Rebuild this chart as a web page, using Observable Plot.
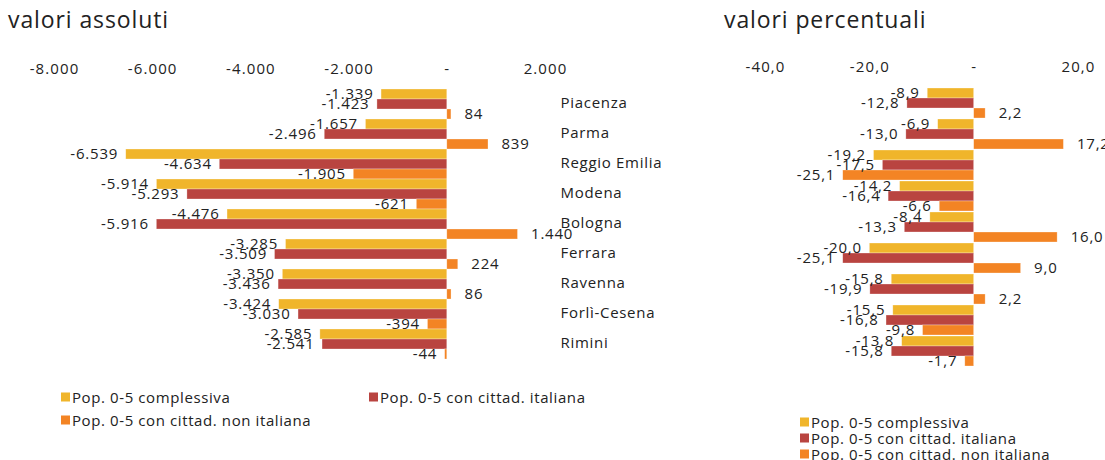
<!DOCTYPE html>
<html>
<head>
<meta charset="utf-8">
<script src="https://cdn.jsdelivr.net/npm/d3@7"></script>
<script src="https://cdn.jsdelivr.net/npm/@observablehq/plot@0.6"></script>
<style>
  html, body { margin: 0; padding: 0; background: #fff; }
  body { width: 1105px; height: 460px; position: relative; overflow: hidden; font-family: 'Open Sans', sans-serif; color: #222; }
  .title { position: absolute; font-size: 23px; letter-spacing: 0.9px; line-height: 1; white-space: nowrap; }
  .plot { position: absolute; top: 0; }
  .leg { position: absolute; font-size: 15px; letter-spacing: 0.6px; line-height: 1; white-space: nowrap; display: flex; align-items: center; transform: translateY(-50%); }
  .leg span.sw { width: 9px; height: 9px; display: inline-block; margin-right: 2px; }
  .vlab { letter-spacing: 0.8px; }
  .tlab text { letter-spacing: 1.1px; }
  .clab text { letter-spacing: 0.7px; }
</style>
</head>
<body>
<div class="title" style="left:8px; top:8px;">valori assoluti</div>
<div class="title" style="left:724px; top:8px;">valori percentuali</div>
<div id="left" class="plot" style="left:0px;"></div>
<div id="right" class="plot" style="left:700px;"></div>
<div id="legends"></div>
<script>
const categories = ["Piacenza", "Parma", "Reggio Emilia", "Modena", "Bologna", "Ferrara", "Ravenna", "Forlì-Cesena", "Rimini"];
const series = ["Pop. 0-5 complessiva", "Pop. 0-5 con cittad. italiana", "Pop. 0-5 con cittad. non italiana"];
const colors = ["#F0B52B", "#B94440", "#F38424"];

const absComplessiva = [-1339, -1657, -6539, -5914, -4476, -3285, -3350, -3424, -2585];
const absItaliana    = [-1423, -2496, -4634, -5293, -5916, -3509, -3436, -3030, -2541];
const absStraniera   = [84, 839, -1905, -621, 1440, 224, 86, -394, -44];

const pctComplessiva = [-8.9, -6.9, -19.2, -14.2, -8.4, -20.0, -15.8, -15.5, -13.8];
const pctItaliana    = [-12.8, -13.0, -17.5, -16.4, -13.3, -25.1, -19.9, -16.8, -15.8];
const pctStraniera   = [2.2, 17.2, -25.1, -6.6, 16.0, 9.0, 2.2, -9.8, -1.7];

const absTicks = [-8000, -6000, -4000, -2000, 0, 2000];
const pctTicks = [-40, -20, 0, 20];

const loc = d3.formatLocale({decimal: ",", thousands: ".", grouping: [3], currency: ["€", ""], minus: "-"});
const fAbs = loc.format(",d");
const fPct = loc.format(",.1f");

function makeChart({values, domain, ticks, fmt, width, height, mL, mR, mT, mB, showCats}) {
  const data = categories.flatMap((c, i) => series.map((s, j) => ({cat: c, ser: s, v: values[j][i]})));
  const tickFormat = d => d === 0 ? "-" : fmt(d);
  return Plot.plot({
    width, height,
    marginLeft: mL, marginRight: mR, marginTop: mT, marginBottom: mB,
    style: {fontFamily: "'Open Sans', sans-serif", fontSize: "15px", color: "#222", overflow: "visible", background: "transparent"},
    x: {domain, axis: null},
    y: {domain: series, padding: 0, axis: null},
    fy: {domain: categories, padding: 0, axis: null},
    color: {domain: series, range: colors},
    marks: [
      Plot.axisX({anchor: "top", ticks, tickFormat, tickSize: 0, tickPadding: 16, label: null, fontSize: 15, className: "tlab"}),
      showCats ? Plot.axisFy({anchor: "right", tickSize: 0, tickPadding: 15, textAnchor: "start", label: null, fontSize: 15, dy: -1.5, className: "clab"}) : null,
      Plot.barX(data, {x: "v", y: "ser", fy: "cat", fill: "ser", stroke: "#fff", strokeOpacity: 0.5, strokeWidth: 0.6}),
      Plot.text(data.filter(d => d.v < 0), {x: "v", y: "ser", fy: "cat", text: d => fmt(d.v), textAnchor: "end", dx: -8, fontSize: 15, fill: "#222", className: "vlab"}),
      Plot.text(data.filter(d => d.v > 0), {x: "v", y: "ser", fy: "cat", text: d => fmt(d.v), textAnchor: "start", dx: 13, fontSize: 15, fill: "#222", className: "vlab"})
    ]
  });
}

document.getElementById("left").append(makeChart({
  values: [absComplessiva, absItaliana, absStraniera],
  domain: [-8000, 2000], ticks: absTicks, fmt: fAbs,
  width: 700, height: 380, mL: 54, mR: 155, mT: 86, mB: 19, showCats: true
}));
document.getElementById("right").append(makeChart({
  values: [pctComplessiva, pctItaliana, pctStraniera],
  domain: [-40, 20], ticks: pctTicks, fmt: fPct,
  width: 405, height: 380, mL: 65, mR: 27, mT: 85, mB: 13, showCats: false
}));

const legendPos = [
  [[61, 397], [369, 397], [61, 420]],
  [[800, 422], [800, 438], [800, 454]]
];
const legRoot = document.getElementById("legends");
legendPos.forEach(group => group.forEach((p, i) => {
  const d = document.createElement("div");
  d.className = "leg";
  d.style.left = p[0] + "px";
  d.style.top = p[1] + "px";
  const sw = document.createElement("span");
  sw.className = "sw";
  sw.style.background = colors[i];
  d.append(sw, document.createTextNode(series[i]));
  legRoot.append(d);
}));
</script>
</body>
</html>
